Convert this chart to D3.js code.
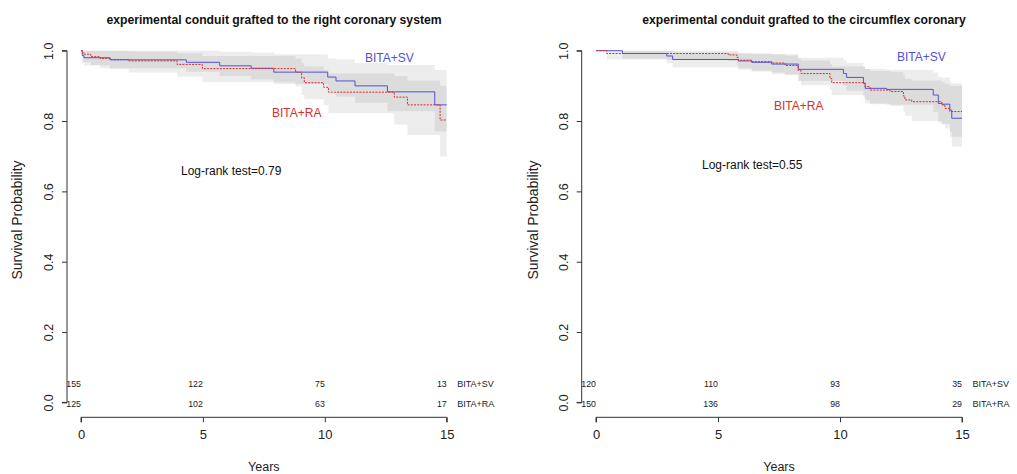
<!DOCTYPE html>
<html>
<head>
<meta charset="utf-8">
<script src="https://cdnjs.cloudflare.com/ajax/libs/d3/7.8.5/d3.min.js"></script>
<style>
  body { margin: 0; background: #fff; }
  svg text { font-family: "Liberation Sans", Arial, sans-serif; }
</style>
</head>
<body>
<div id="chart"></div>
<script>
// ---- data ----
var yearTicks = [0, 5, 10, 15];
var probTicks = [0, 0.2, 0.4, 0.6, 0.8, 1.0];
var groupNames = ["BITA+SV", "BITA+RA"];
var panelTitles = [
  "experimental conduit grafted to the right coronary system",
  "experimental conduit grafted to the circumflex coronary"
];
var logRank = [0.79, 0.55];

// [years, survival, lower CI, upper CI]
var rcaSV = [
  [0, 1, 1, 1], [0.05, 0.986, 0.965, 1], [0.12, 0.98, 0.958, 1],
  [1.19, 0.974, 0.95, 1], [4.32, 0.967, 0.94, 1], [5.69, 0.957, 0.928, 0.997],
  [6.98, 0.95, 0.918, 0.995], [7.91, 0.939, 0.905, 0.99], [10.12, 0.925, 0.885, 0.978],
  [10.46, 0.914, 0.87, 0.975], [11.24, 0.9, 0.852, 0.965], [12.57, 0.883, 0.828, 0.959],
  [14.51, 0.846, 0.77, 0.945]
];
var rcaRA = [
  [0, 1, 1, 1], [0.08, 0.99, 0.968, 1], [0.4, 0.983, 0.959, 1], [0.78, 0.978, 0.95, 1],
  [1.19, 0.975, 0.948, 1], [1.96, 0.971, 0.938, 0.998], [3.94, 0.961, 0.926, 0.993],
  [4.98, 0.949, 0.91, 0.985], [8.8, 0.939, 0.898, 0.978], [9.05, 0.923, 0.874, 0.965],
  [9.16, 0.909, 0.862, 0.955], [9.95, 0.896, 0.845, 0.945], [10.15, 0.882, 0.822, 0.935],
  [12.85, 0.868, 0.79, 0.928], [13.39, 0.846, 0.76, 0.915], [14.73, 0.803, 0.699, 0.9]
];
var cxSV = [
  [0, 1, 1, 1], [1.08, 0.992, 0.978, 1], [2.9, 0.985, 0.965, 1], [3.14, 0.975, 0.952, 0.995],
  [5.83, 0.971, 0.946, 0.993], [6.38, 0.967, 0.94, 0.992], [7.2, 0.962, 0.933, 0.99],
  [8.29, 0.947, 0.914, 0.98], [10.14, 0.935, 0.9, 0.972], [10.27, 0.924, 0.887, 0.965],
  [10.96, 0.907, 0.866, 0.955], [11.03, 0.893, 0.85, 0.948], [11.91, 0.89, 0.846, 0.946],
  [13.82, 0.874, 0.826, 0.938], [14.03, 0.85, 0.795, 0.925], [14.17, 0.848, 0.792, 0.924],
  [14.5, 0.831, 0.77, 0.912], [14.58, 0.808, 0.727, 0.907]
];
var cxRA = [
  [0, 1, 1, 1], [0.44, 0.992, 0.975, 1], [5.42, 0.988, 0.97, 1], [5.77, 0.981, 0.96, 0.998],
  [5.83, 0.973, 0.95, 0.993], [6.38, 0.969, 0.944, 0.991], [7.2, 0.965, 0.938, 0.99],
  [7.75, 0.958, 0.93, 0.986], [8.29, 0.944, 0.915, 0.978], [8.4, 0.935, 0.902, 0.972],
  [9.59, 0.921, 0.888, 0.962], [9.66, 0.909, 0.874, 0.955], [11.03, 0.898, 0.86, 0.948],
  [11.23, 0.888, 0.848, 0.942], [12.05, 0.884, 0.843, 0.94], [12.6, 0.871, 0.827, 0.93],
  [12.66, 0.86, 0.815, 0.92], [12.94, 0.855, 0.8, 0.915], [14.17, 0.846, 0.79, 0.91],
  [14.3, 0.836, 0.779, 0.905], [14.5, 0.827, 0.755, 0.9]
];

// numbers at risk at yearTicks
var riskRcaSV = [155, 122, 75, 13];
var riskRcaRA = [125, 102, 63, 17];
var riskCxSV = [120, 110, 93, 35];
var riskCxRA = [150, 136, 98, 29];

// ---- layout ----
var width = 1017, height = 474;
var blue = "#5252d6", red = "#d63030";

var svg = d3.select("#chart").append("svg")
  .attr("width", width).attr("height", height);

var panels = [
  { x0: 81, x1: 446.7, axisX: 67, labX: 17, titleX: 274, lrX: 181, lrY: 175,
    svLab: [365, 61.5], raLab: [272, 117],
    sv: rcaSV, ra: rcaRA, riskSV: riskRcaSV, riskRA: riskRcaRA },
  { x0: 596, x1: 962, axisX: 581.7, labX: 533, titleX: 804, lrX: 702, lrY: 168.5,
    svLab: [897, 60.5], raLab: [774, 110],
    sv: cxSV, ra: cxRA, riskSV: riskCxSV, riskRA: riskCxRA }
];

panels.forEach(function (p, i) {
  var x = d3.scaleLinear().domain([0, 15]).range([p.x0, p.x1]);
  var y = d3.scaleLinear().domain([0, 1]).range([402.4, 50.7]);
  var g = svg.append("g");

  // confidence bands
  var area = d3.area()
    .curve(d3.curveStepAfter)
    .x(function (d) { return x(d[0]); })
    .y0(function (d) { return y(d[2]); })
    .y1(function (d) { return y(d[3]); });
  var line = d3.line()
    .curve(d3.curveStepAfter)
    .x(function (d) { return x(d[0]); })
    .y(function (d) { return y(d[1]); });

  [p.sv, p.ra].forEach(function (s) {
    var pts = s.concat([[15].concat(s[s.length - 1].slice(1))]);
    g.append("path").attr("d", area(pts))
      .attr("fill", "#000").attr("fill-opacity", 0.07);
  });

  [[p.sv, blue, null], [p.ra, red, "2,1.2"]].forEach(function (c) {
    var s = c[0];
    var pts = s.concat([[15].concat(s[s.length - 1].slice(1))]);
    g.append("path").attr("d", line(pts))
      .attr("fill", "none").attr("stroke", c[1]).attr("stroke-width", 1)
      .attr("stroke-dasharray", c[2]);
  });

  // axes
  var xAxis = d3.axisBottom(x).tickValues(yearTicks).tickSize(5).tickFormat(d3.format("d"));
  var gx = g.append("g").attr("transform", "translate(0,417.3)").call(xAxis);
  gx.select(".domain").attr("d", "M" + x(0) + ",5V0H" + x(15) + "V5").attr("stroke", "#333");
  gx.selectAll(".tick line").attr("stroke", "#333");
  gx.selectAll(".tick text").attr("y", 12).attr("font-size", 13).attr("fill", "#222")
    .attr("font-family", "Liberation Sans, Arial, sans-serif");

  var yAxis = d3.axisLeft(y).tickValues(probTicks).tickSize(5).tickFormat(d3.format(".1f"));
  var gy = g.append("g").attr("transform", "translate(" + p.axisX + ",0)").call(yAxis);
  gy.select(".domain").attr("d", "M-5," + y(0) + "H0V" + y(1) + "H-5").attr("stroke", "#333");
  gy.selectAll(".tick line").attr("stroke", "#333");
  gy.selectAll(".tick text")
    .attr("x", 0).attr("y", 0).attr("dy", 0)
    .attr("transform", "translate(-14,0) rotate(-90)")
    .attr("text-anchor", "middle")
    .attr("font-size", 12.5).attr("fill", "#222")
    .attr("font-family", "Liberation Sans, Arial, sans-serif");

  // title
  g.append("text").attr("x", p.titleX).attr("y", 23.5)
    .attr("text-anchor", "middle").attr("font-weight", "bold").attr("font-size", 12.2)
    .attr("fill", "#111").text(panelTitles[i]);

  // axis labels
  g.append("text").attr("x", x(7.5)).attr("y", 471)
    .attr("text-anchor", "middle").attr("font-size", 12.5).attr("fill", "#222").text("Years");
  g.append("text").attr("transform", "translate(" + (p.labX + 4.5) + ",220) rotate(-90)")
    .attr("text-anchor", "middle").attr("font-size", 14).attr("fill", "#222")
    .text("Survival Probability");

  // legend labels and log-rank
  g.append("text").attr("x", p.svLab[0]).attr("y", p.svLab[1])
    .attr("font-size", 12).attr("fill", blue).text(groupNames[0]);
  g.append("text").attr("x", p.raLab[0]).attr("y", p.raLab[1])
    .attr("font-size", 12).attr("fill", red).text(groupNames[1]);
  g.append("text").attr("x", p.lrX).attr("y", p.lrY)
    .attr("font-size", 12).attr("fill", "#111").text("Log-rank test=" + logRank[i]);

  // numbers at risk
  [[p.riskSV, 387], [p.riskRA, 406.7]].forEach(function (r, k) {
    g.selectAll(null).data(r[0]).join("text")
      .attr("x", function (d, j) { return x(yearTicks[j]); })
      .attr("y", r[1])
      .attr("text-anchor", "end").attr("font-size", 8.8).attr("fill", "#222")
      .text(function (d) { return d; });
    g.append("text").attr("x", x(15) + 10.5).attr("y", r[1])
      .attr("font-size", 9).attr("fill", "#222").text(groupNames[k]);
  });
});
</script>
</body>
</html>
